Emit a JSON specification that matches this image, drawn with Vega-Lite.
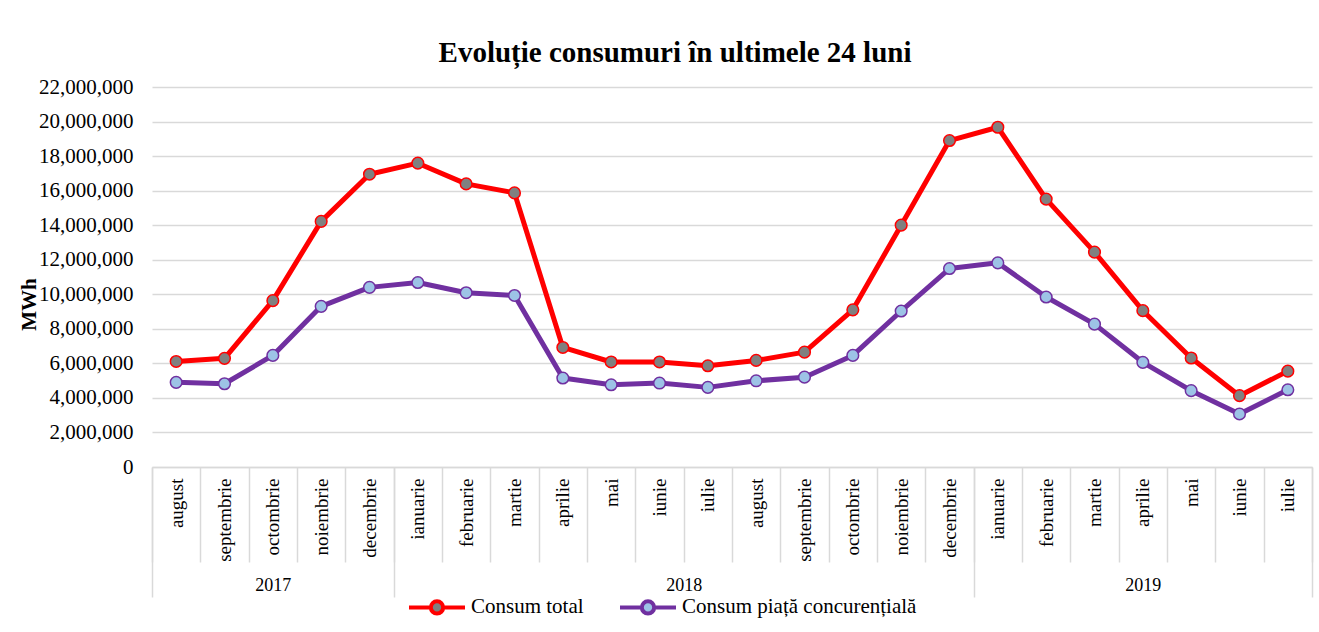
{
  "$schema": "https://vega.github.io/schema/vega-lite/v6.json",
  "width": 1160,
  "height": 380,
  "autosize": {"type": "none"},
  "padding": {"left": 152, "top": 87, "right": 7, "bottom": 165},
  "background": "white",
  "title": {
    "text": "Evoluție consumuri în ultimele 24 luni",
    "font": "Liberation Serif",
    "fontSize": 29,
    "fontWeight": "bold",
    "color": "#000000",
    "anchor": "middle",
    "frame": "group",
    "dx": -57,
    "offset": 8
  },
  "config": {
    "view": {"stroke": null},
    "legend": {
      "orient": "none",
      "legendX": 255,
      "legendY": 490,
      "direction": "horizontal",
      "padding": 0,
      "labelFont": "Liberation Serif",
      "labelFontSize": 21,
      "labelColor": "#000000",
      "labelOffset": 4,
      "columnPadding": 28,
      "symbolType": "M-1,0H-0.22M0.22,0H1M0.22,0A0.22,0.22,0,1,1,-0.22,0A0.22,0.22,0,1,1,0.22,0Z",
      "symbolSize": 3136,
      "symbolStrokeWidth": 4,
      "labelLimit": 400
    }
  },
  "data": {
    "values": [
      {"nr": 1, "an": "2017", "luna": "august", "Consum total": 6110000, "Consum piață concurențială": 4900000},
      {"nr": 2, "an": "2017", "luna": "septembrie", "Consum total": 6290000, "Consum piață concurențială": 4820000},
      {"nr": 3, "an": "2017", "luna": "octombrie", "Consum total": 9630000, "Consum piață concurențială": 6460000},
      {"nr": 4, "an": "2017", "luna": "noiembrie", "Consum total": 14220000, "Consum piață concurențială": 9300000},
      {"nr": 5, "an": "2017", "luna": "decembrie", "Consum total": 16950000, "Consum piață concurențială": 10400000},
      {"nr": 6, "an": "2018", "luna": "ianuarie", "Consum total": 17590000, "Consum piață concurențială": 10680000},
      {"nr": 7, "an": "2018", "luna": "februarie", "Consum total": 16390000, "Consum piață concurențială": 10090000},
      {"nr": 8, "an": "2018", "luna": "martie", "Consum total": 15870000, "Consum piață concurențială": 9930000},
      {"nr": 9, "an": "2018", "luna": "aprilie", "Consum total": 6920000, "Consum piață concurențială": 5150000},
      {"nr": 10, "an": "2018", "luna": "mai", "Consum total": 6080000, "Consum piață concurențială": 4760000},
      {"nr": 11, "an": "2018", "luna": "iunie", "Consum total": 6080000, "Consum piață concurențială": 4860000},
      {"nr": 12, "an": "2018", "luna": "iulie", "Consum total": 5860000, "Consum piață concurențială": 4610000},
      {"nr": 13, "an": "2018", "luna": "august", "Consum total": 6170000, "Consum piață concurențială": 4990000},
      {"nr": 14, "an": "2018", "luna": "septembrie", "Consum total": 6650000, "Consum piață concurențială": 5200000},
      {"nr": 15, "an": "2018", "luna": "octombrie", "Consum total": 9100000, "Consum piață concurențială": 6460000},
      {"nr": 16, "an": "2018", "luna": "noiembrie", "Consum total": 14000000, "Consum piață concurențială": 9030000},
      {"nr": 17, "an": "2018", "luna": "decembrie", "Consum total": 18900000, "Consum piață concurențială": 11490000},
      {"nr": 18, "an": "2019", "luna": "ianuarie", "Consum total": 19670000, "Consum piață concurențială": 11820000},
      {"nr": 19, "an": "2019", "luna": "februarie", "Consum total": 15510000, "Consum piață concurențială": 9840000},
      {"nr": 20, "an": "2019", "luna": "martie", "Consum total": 12440000, "Consum piață concurențială": 8270000},
      {"nr": 21, "an": "2019", "luna": "aprilie", "Consum total": 9050000, "Consum piață concurențială": 6060000},
      {"nr": 22, "an": "2019", "luna": "mai", "Consum total": 6310000, "Consum piață concurențială": 4420000},
      {"nr": 23, "an": "2019", "luna": "iunie", "Consum total": 4130000, "Consum piață concurențială": 3070000},
      {"nr": 24, "an": "2019", "luna": "iulie", "Consum total": 5550000, "Consum piață concurențială": 4470000}
    ]
  },
  "transform": [
    {"fold": ["Consum total", "Consum piață concurențială"], "as": ["serie", "valoare"]}
  ],
  "encoding": {
    "y": {
      "field": "valoare",
      "type": "quantitative",
      "scale": {"domain": [0, 22000000], "nice": false},
      "axis": {
        "values": [0, 2000000, 4000000, 6000000, 8000000, 10000000, 12000000, 14000000, 16000000, 18000000, 20000000, 22000000],
        "format": ",d",
        "title": "MWh",
        "titleFont": "Liberation Serif",
        "titleFontSize": 21,
        "titleFontWeight": "bold",
        "titleColor": "#000000",
        "titleAngle": 270,
        "titleX": -123,
        "titleY": 217,
        "titleAlign": "center",
        "titleBaseline": "middle",
        "labelFont": "Liberation Serif",
        "labelFontSize": 21,
        "labelColor": "#000000",
        "labelPadding": 19,
        "domain": false,
        "ticks": false,
        "grid": true,
        "gridColor": "#d9d9d9",
        "gridWidth": 1.5
      }
    }
  },
  "layer": [
    {
      "mark": {"type": "line", "strokeWidth": 5, "strokeJoin": "round"},
      "encoding": {
        "x": {
          "field": "nr",
          "type": "quantitative",
          "scale": {"domain": [0.5, 24.5], "nice": false, "zero": false},
          "axis": {
            "orient": "bottom",
            "title": null,
            "grid": false,
            "values": [0.5, 1, 1.5, 2, 2.5, 3, 3.5, 4, 4.5, 5, 5.5, 6, 6.5, 7, 7.5, 8, 8.5, 9, 9.5, 10, 10.5, 11, 11.5, 12, 12.5, 13, 13.5, 14, 14.5, 15, 15.5, 16, 16.5, 17, 17.5, 18, 18.5, 19, 19.5, 20, 20.5, 21, 21.5, 22, 22.5, 23, 23.5, 24, 24.5],
            "labelExpr": "datum.value % 1 == 0 ? ['august','septembrie','octombrie','noiembrie','decembrie','ianuarie','februarie','martie','aprilie','mai','iunie','iulie','august','septembrie','octombrie','noiembrie','decembrie','ianuarie','februarie','martie','aprilie','mai','iunie','iulie'][datum.value - 1] : ''",
            "labelAngle": 270,
            "labelAlign": "right",
            "labelBaseline": "middle",
            "labelPadding": -84,
            "labelFont": "Liberation Serif",
            "labelFontSize": 19,
            "labelColor": "#000000",
            "labelOverlap": false,
            "labelFlush": false,
            "labelBound": false,
            "tickSize": 95,
            "tickWidth": 1.5,
            "tickColor": {"condition": {"test": "datum.value % 1 == 0", "value": "transparent"}, "value": "#d9d9d9"},
            "domainColor": "#d9d9d9",
            "domainWidth": 1.5
          }
        },
        "stroke": {
          "field": "serie",
          "type": "nominal",
          "scale": {"domain": ["Consum total", "Consum piață concurențială"], "range": ["#ff0000", "#7030a0"]},
          "legend": {"title": null}
        }
      }
    },
    {
      "mark": {"type": "circle", "size": 135, "strokeWidth": 1.5, "opacity": 1},
      "encoding": {
        "x": {
          "field": "nr",
          "type": "quantitative",
          "scale": {"domain": [0.5, 24.5], "nice": false, "zero": false},
          "axis": {
            "orient": "bottom",
            "title": null,
            "grid": false,
            "domain": false,
            "values": [0.5, 3, 5.5, 11.5, 17.5, 21, 24.5],
            "labelExpr": "datum.value == 3 ? '2017' : datum.value == 11.5 ? '2018' : datum.value == 21 ? '2019' : ''",
            "labelAngle": 0,
            "labelAlign": "center",
            "labelBaseline": "middle",
            "labelPadding": -12,
            "labelFont": "Liberation Serif",
            "labelFontSize": 18,
            "labelColor": "#000000",
            "labelOverlap": false,
            "labelFlush": false,
            "labelBound": false,
            "tickSize": 130,
            "tickWidth": 1.5,
            "tickColor": {"condition": {"test": "datum.value == 3 || datum.value == 11.5 || datum.value == 21", "value": "transparent"}, "value": "#d9d9d9"}
          }
        },
        "stroke": {
          "field": "serie",
          "type": "nominal",
          "scale": {"domain": ["Consum total", "Consum piață concurențială"], "range": ["#ff0000", "#7030a0"]},
          "legend": {"title": null}
        },
        "fill": {
          "field": "serie",
          "type": "nominal",
          "scale": {"domain": ["Consum total", "Consum piață concurențială"], "range": ["#808080", "#9dc3e6"]},
          "legend": {"title": null}
        }
      }
    }
  ],
  "resolve": {"axis": {"x": "independent"}}
}
